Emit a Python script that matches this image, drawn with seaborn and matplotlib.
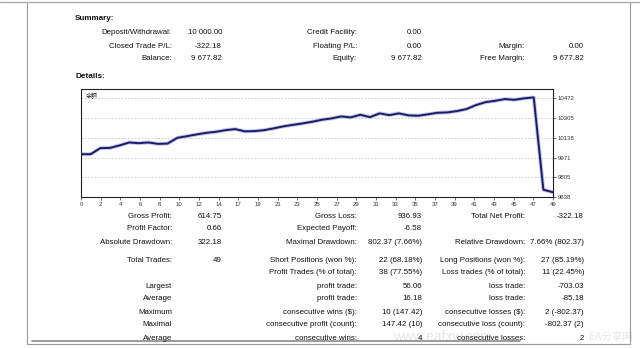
import numpy as np
import pandas as pd
import matplotlib
matplotlib.use("Agg")
import matplotlib.pyplot as plt
from matplotlib.lines import Line2D
from matplotlib.ticker import FixedLocator
import seaborn as sns

# ---------------- data ----------------
trades = list(range(50))
balance = [10000, 10000, 10051, 10053, 10074, 10099, 10093, 10099, 10087, 10090,
           10138, 10152, 10167, 10180, 10189, 10203, 10212, 10193, 10195, 10203,
           10218, 10235, 10248, 10260, 10274, 10291, 10302, 10319, 10311, 10333,
           10313, 10345, 10330, 10345, 10328, 10325, 10337, 10350, 10353, 10364,
           10381, 10415, 10440, 10451, 10466, 10460, 10472, 10480, 9700, 9677.82]
xtick_labels = ["0", "2", "4", "6", "8", "10", "12", "14", "17", "19", "21", "23", "25",
                "27", "29", "31", "33", "35", "37", "39", "41", "43", "45", "47", "49"]
ytick_values = [9638, 9804.8, 9971.6, 10138.4, 10305.2, 10472]
ytick_labels = ["9638", "9805", "9971", "10138", "10305", "10472"]

summary_rows = [
    ("Deposit/Withdrawal:", "10 000.00", "Credit Facility:", "0.00", "", ""),
    ("Closed Trade P/L:", "-322.18", "Floating P/L:", "0.00", "Margin:", "0.00"),
    ("Balance:", "9 677.82", "Equity:", "9 677.82", "Free Margin:", "9 677.82"),
]
details_rows = [
    ("Gross Profit:", "614.75", "Gross Loss:", "936.93", "Total Net Profit:", "-322.18"),
    ("Profit Factor:", "0.66", "Expected Payoff:", "-6.58", "", ""),
    ("Absolute Drawdown:", "322.18", "Maximal Drawdown:", "802.37 (7.66%)", "Relative Drawdown:", "7.66% (802.37)"),
    ("Total Trades:", "49", "Short Positions (won %):", "22 (68.18%)", "Long Positions (won %):", "27 (85.19%)"),
    ("", "", "Profit Trades (% of total):", "38 (77.55%)", "Loss trades (% of total):", "11 (22.45%)"),
    ("Largest", "", "profit trade:", "56.06", "loss trade:", "-703.03"),
    ("Average", "", "profit trade:", "16.18", "loss trade:", "-85.18"),
    ("Maximum", "", "consecutive wins ($):", "10 (147.42)", "consecutive losses ($):", "2 (-802.37)"),
    ("Maximal", "", "consecutive profit (count):", "147.42 (10)", "consecutive loss (count):", "-802.37 (2)"),
    ("Average", "", "consecutive wins:", "4", "consecutive losses:", "2"),
]

df = pd.DataFrame({"trade": trades, "balance": balance})

# ---------------- figure ----------------
sns.set_theme(style="white")
plt.rcParams["font.family"] = ["Liberation Sans", "Noto Sans CJK SC", "DejaVu Sans"]

W, H = 640, 348
fig = plt.figure(figsize=(W / 100, H / 100), dpi=100)
fig.patch.set_facecolor("white")


def px(x, y):
    return x / W, 1 - y / H


def txt(x, y, s, ha="left", size=5.7, weight="normal", color="#111111", **kw):
    fx, fy = px(x, y)
    return fig.text(fx, fy, s, ha=ha, va="center", fontsize=size, fontweight=weight,
                    color=color, **kw)


# window frame lines
fig.add_artist(Line2D([0, 1], [1 - 2 / H, 1 - 2 / H], color="#b0b0b0", lw=1.0))
fig.add_artist(Line2D([27 / W, 27 / W], [1 - 3 / H, 1 - 344 / H], color="#9a9a9a", lw=0.8))
fig.add_artist(Line2D([630 / W, 630 / W], [1 - 3 / H, 1 - 344 / H], color="#9a9a9a", lw=0.8))
fig.add_artist(Line2D([27 / W, 630 / W], [1 - 344 / H, 1 - 344 / H], color="#9a9a9a", lw=0.8))
fig.add_artist(Line2D([32 / W, 520 / W], [1 - 341 / H, 1 - 341 / H], color="#8a8a8a", lw=1.2))

# watermark (drawn first, faint)
txt(393, 337, "www.eafxw.com", size=10, color="#e6e6e6", zorder=0)
txt(589, 337, "EA分享网", size=7.5, color="#e6e6e6", zorder=0,
    family=["Noto Sans CJK SC", "DejaVu Sans"])

# section titles
txt(75, 19, "Summary:", weight="bold", size=5.9)
txt(75, 76, "Details:", weight="bold", size=5.9)

col_ends = [172, 222, 357, 422, 525, 584]


def draw_rows(rows, ys):
    for row, y in zip(rows, ys):
        for s, xe in zip(row, col_ends):
            if s:
                txt(xe, y, s, ha="right", zorder=2)


draw_rows(summary_rows, [33, 46, 59])
draw_rows(details_rows, [216, 229, 242, 261, 273, 286, 299, 312, 325, 338])

# ---------------- chart ----------------
ax = fig.add_axes([81 / W, 1 - 197 / H, (553 - 81) / W, (197 - 89) / H])
sns.lineplot(data=df, x="trade", y="balance", ax=ax, color="#c4c6e6", lw=2.8)
sns.lineplot(data=df, x="trade", y="balance", ax=ax, color="#1c1c66", lw=1.4)
ax.set_xlim(0, 49)
ax.set_ylim(9638, 10551)
ax.set_xlabel("")
ax.set_ylabel("")

ax.set_xticks(np.linspace(0, 49, 25))
ax.set_xticklabels(xtick_labels)
ax.xaxis.set_minor_locator(FixedLocator(np.linspace(0, 49, 13)[1:-1]))
ax.set_yticks(ytick_values)
ax.set_yticklabels(ytick_labels)
ax.yaxis.tick_right()

ax.tick_params(axis="x", which="major", labelsize=4.3, length=2, width=0.5, pad=1.5,
               colors="#333333", bottom=True)
ax.tick_params(axis="x", which="minor", length=0, bottom=False)
ax.tick_params(axis="y", labelsize=4.3, length=2, width=0.5, pad=1.5,
               colors="#333333", right=True, left=False)

ax.grid(False)
ax.yaxis.grid(True, color="#c8c8c8", lw=0.6, linestyle=(0, (2, 2)))
ax.xaxis.grid(True, which="minor", color="#c8c8c8", lw=0.6, linestyle=(0, (2, 2)))
for sp in ax.spines.values():
    sp.set_color("#222222")
    sp.set_linewidth(0.8)

ax.text(0.01, 0.96, "余额", transform=ax.transAxes, ha="left", va="top", fontsize=4.3,
        color="#222222", family=["Noto Sans CJK SC", "DejaVu Sans"])

fig.savefig("out.png", dpi=100, facecolor="white")
